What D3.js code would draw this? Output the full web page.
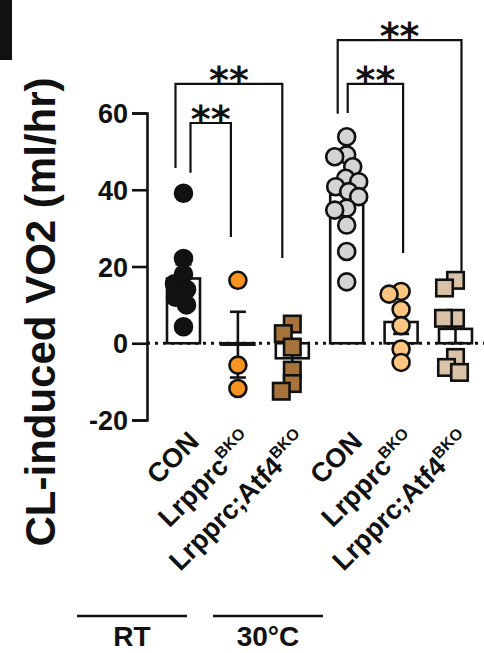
<!DOCTYPE html>
<html>
<head>
<meta charset="utf-8">
<script src="https://cdn.jsdelivr.net/npm/d3@7"></script>
<style>
  html, body { margin: 0; padding: 0; background: #fff; }
  svg { display: block; }
  text { font-family: Arial, "Liberation Sans", Helvetica, sans-serif; font-weight: bold; fill: #111; }
</style>
</head>
<body>
<svg id="chart" width="484" height="653"></svg>
<script>
// ---- data ----
const categories = ["RT_CON", "RT_Lrpprc", "RT_Lrpprc_Atf4", "W_CON", "W_Lrpprc", "W_Lrpprc_Atf4"];
const labelMain = ["CON", "Lrpprc", "Lrpprc;Atf4", "CON", "Lrpprc", "Lrpprc;Atf4"];
const labelSup = ["", "BKO", "BKO", "", "BKO", "BKO"];
const temperatures = ["RT", "30°C"];
const yTicks = [-20, 0, 20, 40, 60];

const conRT = [39.1, 22.1, 18, 15.5, 14, 12, 10, 4.3];
const lrpprcRT = [16.4, -5.7, -11.8];
const lrpprcAtf4RT = [5, 2.5, -1, -7, -10.5, -12.5];
const con30 = [53.8, 49.1, 48.6, 46, 43, 42.1, 40.8, 39.5, 38.2, 35.2, 34.7, 30.8, 23.9, 16];
const lrpprc30 = [13.5, 12.8, 8.8, 4.6, -1.5, -5];
const lrpprcAtf430 = [16.4, 14.4, 6.5, 6.5, -3.7, -6.3, -7.6];
const seriesValues = [conRT, lrpprcRT, lrpprcAtf4RT, con30, lrpprc30, lrpprcAtf430];

// significance comparisons (category indices)
const comparisons = [
  { from: 0, to: 2, label: "**" },
  { from: 0, to: 1, label: "**" },
  { from: 3, to: 5, label: "**" },
  { from: 3, to: 4, label: "**" }
];

// ---- styling ----
const fills = ["#111111", "#f7931e", "#a8733a", "#d4d4d4", "#fdc580", "#d9c2a8"];
const shapes = ["circle", "circle", "square", "circle", "circle", "square"];
// bracket geometry in axis units: bar level, left/right leg ends, leg x nudges (px)
const bracketLayout = [
  { level: 67.6, leftEnd: 45.7, rightEnd: 22.2, dxL: -8, dxR: -10 },
  { level: 57.4, leftEnd: 44.4, rightEnd: 27.7, dxL: 7, dxR: -7 },
  { level: 79, leftEnd: 59.8, rightEnd: 18.3, dxL: -9, dxR: 6 },
  { level: 67.6, leftEnd: 60, rightEnd: 23.5, dxL: 1, dxR: 2 }
];

const svg = d3.select("#chart");

const x = d3.scalePoint().domain(categories).range([183.5, 455.5]);
const y = d3.scaleLinear().domain([-20, 60]).range([420, 113]);

const barW = 33, capW = 16, rCircle = 8.5, sq = 16.5, sw = 2.6;

// panel edge mark
svg.append("rect").attr("x", 0).attr("y", 0).attr("width", 12).attr("height", 60).attr("fill", "#111");

// y axis
const yAxis = d3.axisLeft(y).tickValues(yTicks).tickSize(15).tickPadding(4).tickFormat(d => String(d));
const gy = svg.append("g").attr("transform", "translate(147,0)").call(yAxis);
gy.select(".domain").attr("stroke", "#111").attr("stroke-width", sw);
gy.selectAll(".tick line").attr("stroke", "#111").attr("stroke-width", sw);
gy.selectAll(".tick text")
  .style("font-family", "Arial, 'Liberation Sans', sans-serif")
  .style("font-weight", "bold").style("font-size", "27px").attr("fill", "#111").attr("dy", "0.36em");

// y title
svg.append("g").attr("transform", "translate(55,312) rotate(-90)")
  .append("text")
  .attr("text-anchor", "middle")
  .style("font-size", "42px")
  .text("CL-induced VO2 (ml/hr)");

// zero reference line
svg.append("line")
  .attr("x1", 147).attr("x2", 484).attr("y1", y(0)).attr("y2", y(0))
  .attr("stroke", "#111").attr("stroke-width", 3).attr("stroke-dasharray", "3,5");

const stats = seriesValues.map(v => {
  const m = d3.mean(v);
  const sem = d3.deviation(v) / Math.sqrt(v.length);
  return { mean: m, sem: sem };
});

// bars
svg.append("g").selectAll("rect").data(categories).join("rect")
  .attr("x", (c) => x(c) - barW / 2)
  .attr("width", barW)
  .attr("y", (c, i) => Math.min(y(stats[i].mean), y(0)))
  .attr("height", (c, i) => Math.abs(y(stats[i].mean) - y(0)))
  .attr("fill", "#fff").attr("stroke", "#111").attr("stroke-width", sw);

// error bars (mean ± SEM)
const eb = svg.append("g").attr("stroke", "#111").attr("stroke-width", sw);
categories.forEach((c, i) => {
  const cx = x(c), s = stats[i];
  const hi = y(s.mean + s.sem), lo = y(s.mean - s.sem);
  eb.append("line").attr("x1", cx).attr("x2", cx).attr("y1", hi).attr("y2", lo);
  eb.append("line").attr("x1", cx - capW / 2).attr("x2", cx + capW / 2).attr("y1", hi).attr("y2", hi);
  eb.append("line").attr("x1", cx - capW / 2).attr("x2", cx + capW / 2).attr("y1", lo).attr("y2", lo);
});

// horizontal dodge so overlapping points spread sideways
function dodge(values, minDist, maxOff) {
  const order = d3.range(values.length).sort((a, b) => values[b] - values[a]);
  const placed = [];
  const offs = new Array(values.length).fill(0);
  const cands = [0];
  for (let k = 1; k <= maxOff; k++) cands.push(-k, k);
  order.forEach(i => {
    const py = y(values[i]);
    let best = 0, bestScore = -Infinity;
    for (const c of cands) {
      let md = Infinity;
      placed.forEach(p => { md = Math.min(md, Math.hypot(p.x - c, p.y - py)); });
      if (md >= minDist) { best = c; break; }
      if (md > bestScore) { bestScore = md; best = c; }
    }
    placed.push({ x: best, y: py });
    offs[i] = best;
  });
  return offs;
}

// points
const pts = svg.append("g");
categories.forEach((c, i) => {
  const vals = seriesValues[i];
  const offs = dodge(vals, 13, 12);
  const g = pts.append("g");
  vals.forEach((v, j) => {
    const px = x(c) + offs[j], py = y(v);
    if (shapes[i] === "circle") {
      g.append("circle").attr("cx", px).attr("cy", py).attr("r", rCircle)
        .attr("fill", fills[i]).attr("stroke", "#111").attr("stroke-width", sw);
    } else {
      g.append("rect").attr("x", px - sq / 2).attr("y", py - sq / 2).attr("width", sq).attr("height", sq)
        .attr("fill", fills[i]).attr("stroke", "#111").attr("stroke-width", sw);
    }
  });
});

// significance brackets
const br = svg.append("g");
comparisons.forEach((cmp, k) => {
  const L = bracketLayout[k];
  const x1 = x(categories[cmp.from]) + L.dxL, x2 = x(categories[cmp.to]) + L.dxR;
  br.append("path")
    .attr("d", `M${x1},${y(L.leftEnd)}V${y(L.level)}H${x2}V${y(L.rightEnd)}`)
    .attr("fill", "none").attr("stroke", "#111").attr("stroke-width", 2.2);
  br.append("text")
    .attr("x", (x1 + x2) / 2).attr("y", y(L.level) + 9)
    .attr("text-anchor", "middle")
    .style("font-family", "'DejaVu Sans', sans-serif")
    .style("font-size", "38px")
    .text(cmp.label);
});

// category labels, slanted 45 degrees
const lab = svg.append("g");
categories.forEach((c, i) => {
  const t = lab.append("text")
    .attr("transform", `translate(${x(c) + 17},443) rotate(-45)`)
    .attr("text-anchor", "end")
    .style("font-size", "27px");
  t.append("tspan").text(labelMain[i]);
  if (labelSup[i]) {
    t.append("tspan").attr("dy", -12).style("font-size", "16px").text(labelSup[i]);
  }
});

// temperature groups
const groupSpans = [[77, 187], [213, 323]];
temperatures.forEach((tLabel, k) => {
  const [a, b] = groupSpans[k];
  svg.append("line").attr("x1", a).attr("x2", b).attr("y1", 616).attr("y2", 616)
    .attr("stroke", "#111").attr("stroke-width", 2.5);
  svg.append("text").attr("x", (a + b) / 2).attr("y", 646).attr("text-anchor", "middle")
    .style("font-size", "28px").text(tLabel);
});
</script>
</body>
</html>
